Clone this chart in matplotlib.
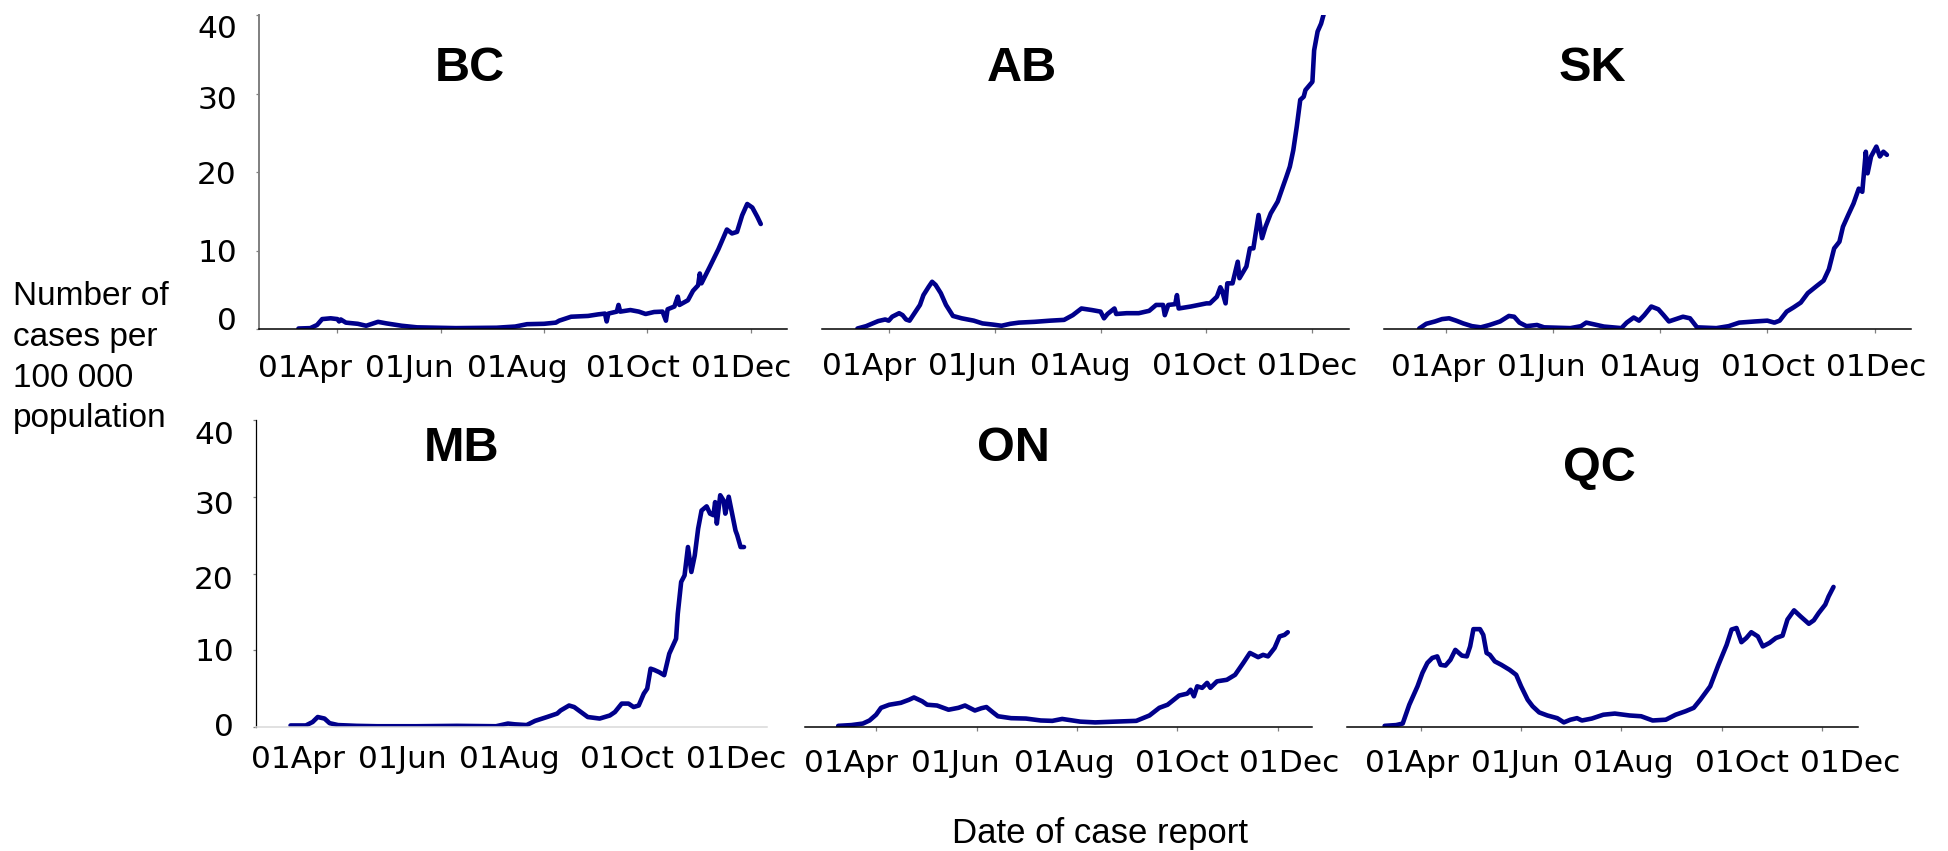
import matplotlib
matplotlib.use("Agg")
import matplotlib.pyplot as plt
import matplotlib.dates as mdates
import pandas as pd

W, H = 1949, 851
YEAR = "2020-"

tick_dates = ["04-01", "06-01", "08-01", "10-01", "12-01"]
tick_labels = ["01Apr", "01Jun", "01Aug", "01Oct", "01Dec"]
y_ticks = [0, 10, 20, 30, 40]

bc_dates = ["03-09", "03-16", "03-20", "03-23", "03-28", "04-01", "04-02", "04-03", "04-06", "04-13",
            "04-18", "04-25", "04-30", "05-09", "05-18", "06-10", "07-04", "07-15", "07-22", "08-01",
            "08-08", "08-10", "08-17", "08-27", "09-02", "09-06", "09-07", "09-08", "09-13", "09-14",
            "09-15", "09-21", "09-26", "09-30", "10-05", "10-10", "10-12", "10-13", "10-17", "10-19",
            "10-20", "10-25", "10-28", "10-31", "11-01", "11-02", "11-07", "11-12", "11-17", "11-20",
            "11-23", "11-26", "11-29", "12-02", "12-05", "12-07"]
bc_values = [0.1, 0.15, 0.55, 1.3, 1.4, 1.3, 1.0, 1.25, 0.85, 0.7,
             0.45, 0.95, 0.75, 0.45, 0.25, 0.15, 0.2, 0.35, 0.65, 0.7,
             0.85, 1.1, 1.6, 1.7, 1.9, 2.0, 1.0, 2.0, 2.25, 3.1,
             2.25, 2.45, 2.25, 1.95, 2.2, 2.25, 1.1, 2.55, 2.9, 4.15,
             3.1, 3.7, 4.9, 5.6, 7.1, 5.85, 8.0, 10.2, 12.7, 12.2,
             12.4, 14.5, 15.95, 15.5, 14.3, 13.4]

ab_dates = ["03-14", "03-19", "03-26", "03-30", "04-01", "04-03", "04-07", "04-09", "04-11", "04-13",
            "04-16", "04-19", "04-21", "04-24", "04-26", "04-28", "05-01", "05-04", "05-08", "05-13",
            "05-20", "05-25", "05-31", "06-05", "06-10", "06-15", "06-24", "07-03", "07-11", "07-16",
            "07-21", "07-27", "08-01", "08-03", "08-05", "08-09", "08-10", "08-16", "08-23", "08-29",
            "09-02", "09-06", "09-07", "09-09", "09-13", "09-14", "09-15", "09-22", "10-01", "10-03",
            "10-07", "10-09", "10-10", "10-12", "10-13", "10-16", "10-19", "10-20", "10-24", "10-26",
            "10-28", "10-31", "11-02", "11-04", "11-07", "11-11", "11-14", "11-16", "11-18", "11-20",
            "11-22", "11-24", "11-26", "11-27", "12-01", "12-02", "12-04", "12-06", "12-08"]
ab_values = [0.1, 0.4, 1.05, 1.25, 1.1, 1.6, 2.05, 1.8, 1.25, 1.1,
             2.1, 3.1, 4.35, 5.4, 6.05, 5.65, 4.6, 3.1, 1.7, 1.4,
             1.1, 0.75, 0.6, 0.45, 0.7, 0.85, 0.95, 1.1, 1.2, 1.8,
             2.65, 2.45, 2.25, 1.4, 1.95, 2.65, 1.95, 2.05, 2.05, 2.35,
             3.1, 3.1, 1.8, 3.1, 3.2, 4.35, 2.65, 2.9, 3.3, 3.3,
             4.15, 5.35, 4.9, 3.3, 5.85, 5.85, 8.6, 6.5, 8.0, 10.3,
             10.3, 14.55, 11.6, 13.05, 14.75, 16.25, 18.15, 19.4, 20.7, 22.8,
             25.8, 29.2, 29.6, 30.45, 31.5, 35.5, 37.9, 38.9, 40.5]

sk_dates = ["03-17", "03-21", "03-26", "03-30", "04-03", "04-07", "04-11", "04-16", "04-21", "04-26",
            "05-02", "05-07", "05-10", "05-13", "05-17", "05-23", "05-27", "06-11", "06-17", "06-20",
            "06-23", "06-30", "07-10", "07-13", "07-17", "07-20", "07-23", "07-27", "07-31", "08-03",
            "08-06", "08-10", "08-14", "08-18", "08-22", "09-02", "09-09", "09-15", "09-24", "10-01",
            "10-05", "10-08", "10-12", "10-16", "10-20", "10-24", "10-29", "11-02", "11-05", "11-08",
            "11-11", "11-13", "11-16", "11-19", "11-22", "11-24", "11-26", "11-27", "11-29", "12-02",
            "12-04", "12-06", "12-08"]
sk_values = [0.1, 0.7, 1.0, 1.3, 1.4, 1.1, 0.75, 0.4, 0.25, 0.55,
             1.0, 1.7, 1.6, 0.85, 0.4, 0.55, 0.25, 0.15, 0.4, 0.85,
             0.7, 0.35, 0.15, 0.85, 1.5, 1.1, 1.8, 2.9, 2.55, 1.8,
             1.0, 1.3, 1.6, 1.4, 0.25, 0.15, 0.4, 0.85, 1.0, 1.1,
             0.85, 1.1, 2.25, 2.8, 3.4, 4.6, 5.5, 6.2, 7.65, 10.3,
             11.15, 13.05, 14.55, 16.0, 17.9, 17.5, 22.6, 19.85, 22.0, 23.25,
             22.0, 22.6, 22.2]

mb_dates = ["03-09", "03-18", "03-22", "03-25", "03-29", "04-01", "04-06", "04-17", "04-29", "05-22",
            "06-15", "07-08", "07-15", "07-19", "07-26", "07-31", "08-07", "08-13", "08-15", "08-20",
            "08-23", "08-27", "08-31", "09-07", "09-13", "09-16", "09-20", "09-24", "09-27", "09-30",
            "10-03", "10-05", "10-07", "10-09", "10-12", "10-15", "10-18", "10-22", "10-23", "10-25",
            "10-27", "10-29", "10-31", "11-02", "11-04", "11-06", "11-09", "11-11", "11-13", "11-14",
            "11-15", "11-17", "11-19", "11-20", "11-22", "11-24", "11-26", "11-27", "11-29", "12-01"]
mb_values = [0.2, 0.2, 0.65, 1.3, 1.1, 0.5, 0.25, 0.15, 0.1, 0.1,
             0.15, 0.1, 0.45, 0.35, 0.25, 0.8, 1.3, 1.75, 2.15, 2.8,
             2.6, 1.95, 1.3, 1.1, 1.5, 1.95, 3.05, 3.05, 2.6, 2.8,
             4.35, 5.0, 7.6, 7.45, 7.15, 6.75, 9.55, 11.5, 14.75, 18.9,
             19.75, 23.45, 20.2, 22.35, 25.85, 28.2, 28.75, 27.8, 27.6, 29.3,
             26.5, 30.2, 29.5, 27.8, 30.0, 27.8, 25.6, 25.0, 23.45, 23.45]

on_dates = ["03-09", "03-17", "03-24", "03-28", "04-01", "04-04", "04-09", "04-16", "04-21", "04-24",
            "04-29", "05-02", "05-08", "05-15", "05-21", "05-25", "05-31", "06-04", "06-07", "06-11",
            "06-14", "06-22", "07-01", "07-10", "07-17", "07-23", "08-03", "08-12", "08-24", "09-06",
            "09-14", "09-20", "09-25", "10-02", "10-07", "10-09", "10-11", "10-13", "10-16", "10-19",
            "10-21", "10-25", "10-31", "11-05", "11-10", "11-14", "11-19", "11-22", "11-25", "11-29",
            "12-02", "12-05", "12-07"]
on_values = [0.15, 0.25, 0.45, 0.85, 1.6, 2.5, 2.9, 3.15, 3.55, 3.85,
             3.35, 2.9, 2.8, 2.25, 2.5, 2.8, 2.15, 2.45, 2.6, 1.9,
             1.4, 1.15, 1.1, 0.85, 0.8, 1.05, 0.7, 0.6, 0.7, 0.8,
             1.5, 2.5, 2.9, 4.1, 4.35, 4.85, 4.0, 5.3, 5.1, 5.75,
             5.1, 5.95, 6.15, 6.8, 8.35, 9.65, 9.1, 9.4, 9.2, 10.3,
             11.8, 12.0, 12.35]

qc_dates = ["03-10", "03-17", "03-21", "03-25", "03-30", "04-02", "04-05", "04-08", "04-11", "04-13",
            "04-16", "04-19", "04-22", "04-26", "04-29", "05-01", "05-03", "05-07", "05-09", "05-11",
            "05-13", "05-16", "05-20", "05-25", "05-29", "06-01", "06-05", "06-08", "06-12", "06-17",
            "06-23", "06-27", "07-01", "07-05", "07-08", "07-14", "07-21", "07-28", "08-06", "08-13",
            "08-20", "08-28", "09-03", "09-09", "09-14", "09-18", "09-24", "09-29", "10-04", "10-07",
            "10-10", "10-13", "10-16", "10-19", "10-23", "10-26", "10-30", "11-03", "11-07", "11-10",
            "11-14", "11-18", "11-23", "11-26", "11-29", "12-03", "12-05", "12-08"]
qc_values = [0.15, 0.25, 0.45, 2.9, 5.3, 7.05, 8.35, 9.0, 9.2, 8.1,
             8.0, 8.75, 10.05, 9.3, 9.2, 10.5, 12.75, 12.75, 12.0, 9.65,
             9.4, 8.55, 8.1, 7.45, 6.8, 5.3, 3.55, 2.7, 1.9, 1.5,
             1.15, 0.6, 0.95, 1.15, 0.85, 1.1, 1.6, 1.75, 1.5, 1.4,
             0.85, 0.95, 1.6, 2.05, 2.5, 3.55, 5.3, 8.1, 10.7, 12.7,
             12.9, 11.05, 11.6, 12.35, 11.8, 10.5, 10.95, 11.6, 11.9, 14.0,
             15.2, 14.4, 13.45, 13.9, 14.85, 15.95, 17.0, 18.25]

series = {
    "BC": (bc_dates, bc_values), "AB": (ab_dates, ab_values), "SK": (sk_dates, sk_values),
    "MB": (mb_dates, mb_values), "ON": (on_dates, on_values), "QC": (qc_dates, qc_values),
}

# ---- layout (pixel coordinates in the 1949x851 canvas, y downward) ----
layout = {
    "BC": dict(left=259, right=787, top=15, bottom=329.3, apr=337.4, dec=750.6,
               title=(470, 81), xoff=[-32, -31, -27, -14, -9], xbase=47.3,
               yaxis=True, ycolor="#7f7f7f", yoff=[0.7, 11, 11.4, 15, 23.4], xcolor="black", xticks=True),
    "AB": dict(left=822.5, right=1348.7, top=15, bottom=329.3, apr=888.7, dec=1312.4,
               title=(1021.5, 81), xoff=[-20, -22, -20, -8, -5], xbase=45.5,
               yaxis=False, xcolor="black", xticks=True),
    "SK": dict(left=1384.4, right=1911.4, top=15, bottom=329.3, apr=1445.6, dec=1874.6,
               title=(1592, 81), xoff=[-8, -12, -10, 1, 2], xbase=47,
               yaxis=False, xcolor="black", xticks=True),
    "MB": dict(left=255.9, right=767.2, top=420, bottom=727, apr=329.6, dec=744,
               title=(461.5, 461), xoff=[-32, -31, -27, -13, -8], xbase=41.5,
               yaxis=True, ycolor="black", yoff=[8.5, 10.5, 15.5, 17.5, 23.5], xcolor="#d9d9d9", xticks=False),
    "ON": dict(left=804.5, right=1312.4, top=420, bottom=727, apr=876.1, dec=1277.9,
               title=(1013, 461), xoff=[-25, -21, -13, 4.5, 11.6], xbase=44.5,
               yaxis=False, xcolor="black", xticks=True),
    "QC": dict(left=1346.8, right=1857.7, top=420, bottom=727, apr=1420.8, dec=1822,
               title=(1599, 481), xoff=[-9, -6, 2, 20, 28], xbase=44.5,
               yaxis=False, xcolor="black", xticks=True),
}

LINE_COLOR = "#00008B"
TICK_FONT = "DejaVu Sans"
TEXT_FONT = "Liberation Sans"
TICK_SIZE = 22.5
PX = 0.72  # points per pixel at dpi 100

fig = plt.figure(figsize=(W / 100, H / 100), dpi=100)
fig.patch.set_facecolor("white")

apr1 = mdates.date2num(pd.Timestamp(YEAR + "04-01"))
tick_nums = [mdates.date2num(pd.Timestamp(YEAR + d)) for d in tick_dates]

for name, (dates, values) in series.items():
    L = layout[name]
    ax = fig.add_axes([L["left"] / W, 1 - L["bottom"] / H,
                       (L["right"] - L["left"]) / W, (L["bottom"] - L["top"]) / H])
    ppd = (L["dec"] - L["apr"]) / 244.0
    ax.set_xlim(apr1 - (L["apr"] - L["left"]) / ppd, apr1 + (L["right"] - L["apr"]) / ppd)
    ax.set_ylim(0, 40)

    x = pd.to_datetime([YEAR + d for d in dates])
    ax.plot(x, values, color=LINE_COLOR, lw=3.3, solid_joinstyle="round",
            solid_capstyle="round", clip_on=True)

    for s in ["top", "right"]:
        ax.spines[s].set_visible(False)
    ax.spines["bottom"].set_color(L["xcolor"])
    ax.spines["bottom"].set_linewidth(1.1)

    ax.set_xticks(tick_nums)
    ax.tick_params(axis="x", labelbottom=False, direction="out",
                   length=3 if L["xticks"] else 0, width=0.9, color="#808080")
    for t, lab, dx in zip(tick_nums, tick_labels, L["xoff"]):
        ax.annotate(lab, xy=(t, 0), xycoords=("data", "axes fraction"),
                    xytext=(dx * PX, -L["xbase"] * PX), textcoords="offset points",
                    ha="center", va="baseline", fontsize=TICK_SIZE, family=TICK_FONT,
                    annotation_clip=False)

    if L["yaxis"]:
        ax.spines["left"].set_color(L["ycolor"])
        ax.spines["left"].set_linewidth(1.4 if L["ycolor"] != "black" else 0.9)
        ax.set_yticks(y_ticks)
        ax.tick_params(axis="y", labelleft=False, direction="out", length=2.2,
                       width=0.9, color="#808080")
        for v, dy in zip(y_ticks, L["yoff"]):
            ax.annotate(str(v), xy=(0, v), xycoords=("axes fraction", "data"),
                        xytext=(-22 * PX, -dy * PX), textcoords="offset points",
                        ha="right", va="baseline", fontsize=TICK_SIZE, family=TICK_FONT,
                        annotation_clip=False)
    else:
        ax.spines["left"].set_visible(False)
        ax.set_yticks([])

    tx, ty = L["title"]
    fig.text(tx / W, 1 - ty / H, name, ha="center", va="baseline",
             fontsize=35, fontweight="bold", family=TEXT_FONT)

ylabel_lines = ["Number of", "cases per", "100 000", "population"]
for line, base in zip(ylabel_lines, [305, 346, 387, 427]):
    fig.text(13 / W, 1 - base / H, line, ha="left", va="baseline",
             fontsize=24, family=TEXT_FONT)

fig.text(1100 / W, 1 - 843 / H, "Date of case report", ha="center", va="baseline",
         fontsize=25, family=TEXT_FONT)

fig.savefig("out.png", dpi=100, facecolor="white")
